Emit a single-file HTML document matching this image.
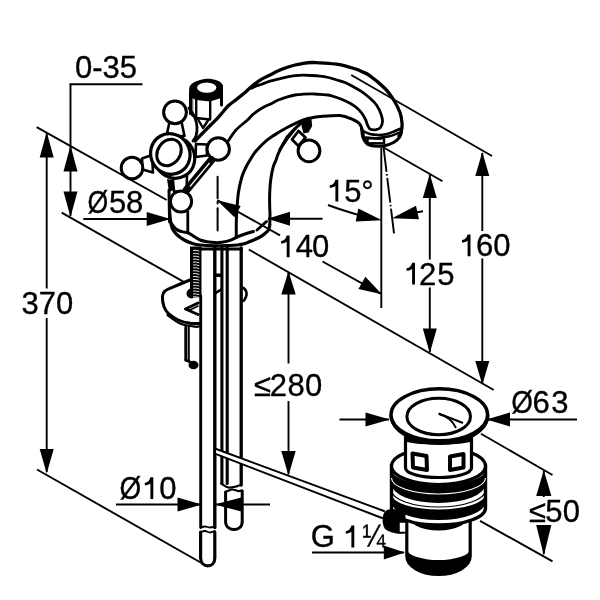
<!DOCTYPE html>
<html><head><meta charset="utf-8"><style>
html,body{margin:0;padding:0;background:#fff;}
svg{display:block;font-family:"Liberation Sans",sans-serif;filter:grayscale(1);}
text{stroke:#000;stroke-width:0.35px;}
</style></head><body>
<svg width="600" height="600" viewBox="0 0 600 600">
<rect width="600" height="600" fill="#fff"/>
<text x="75" y="78" font-size="31" text-anchor="start">0-35</text>
<line x1="69.5" y1="84.2" x2="142.5" y2="84.2" stroke="#000" stroke-width="1.9"/>
<line x1="70.5" y1="84.2" x2="70.5" y2="216" stroke="#000" stroke-width="1.9"/>
<polygon points="70.5,145.5 63.5,171.5 77.5,171.5" fill="#000"/>
<polygon points="70.5,217.0 77.5,191.5 63.5,191.5" fill="#000"/>
<line x1="46.7" y1="133" x2="46.7" y2="288.5" stroke="#000" stroke-width="1.9"/>
<line x1="46.7" y1="318" x2="46.7" y2="472" stroke="#000" stroke-width="1.9"/>
<polygon points="46.7,132.0 39.7,157.5 53.7,157.5" fill="#000"/>
<polygon points="46.7,473.5 53.7,449.0 39.7,449.0" fill="#000"/>
<text x="21.5" y="314" font-size="31" text-anchor="start">370</text>
<line x1="36.7" y1="127.2" x2="166.7" y2="200" stroke="#000" stroke-width="1.9"/>
<line x1="61.7" y1="212.7" x2="183.3" y2="281.7" stroke="#000" stroke-width="1.9"/>
<line x1="37" y1="469.5" x2="201.5" y2="563" stroke="#000" stroke-width="1.9"/>
<text transform="translate(87.38,213.4) scale(0.86,1)" font-size="31">Ø</text>
<text x="109.06" y="213.4" font-size="31">5</text>
<text x="126.05" y="213.4" font-size="31">8</text>
<line x1="83.3" y1="219" x2="168" y2="219" stroke="#000" stroke-width="1.9"/>
<polygon points="170.5,219.0 146.7,212.0 146.7,226.0" fill="#000"/>
<line x1="268" y1="218.8" x2="322.5" y2="218.8" stroke="#000" stroke-width="1.9"/>
<polygon points="267.3,218.8 290.0,225.8 290.0,211.8" fill="#000"/>
<line x1="217.5" y1="200.4" x2="280" y2="235.3" stroke="#000" stroke-width="1.9"/>
<line x1="322.5" y1="261.5" x2="381" y2="293.8" stroke="#000" stroke-width="1.9"/>
<polygon points="216.6,199.9 234.5,217.2 240.7,206.0" fill="#000"/>
<polygon points="381.9,294.3 365.4,276.8 358.4,289.0" fill="#000"/>
<path d="M286.70,235.50 L289.60,235.50 L289.60,257.30 L286.70,257.30 L286.70,241.70 C285.30,242.90 283.30,243.40 281.10,243.60 L281.10,241.10 C284.30,240.70 286.10,238.50 286.70,235.50 Z" fill="#000"/>
<text x="295.79" y="257.3" font-size="31">4</text>
<text x="312.09" y="257.3" font-size="31">0</text>
<path d="M335.40,179.70 L338.30,179.70 L338.30,201.50 L335.40,201.50 L335.40,185.90 C334.00,187.10 332.00,187.60 329.80,187.80 L329.80,185.30 C333.00,184.90 334.80,182.70 335.40,179.70 Z" fill="#000"/>
<text x="344.16" y="201.5" font-size="31">5</text>
<text x="361.25" y="201.5" font-size="31">°</text>
<path d="M328,205 Q342,210.3 360,215.3" fill="none" stroke="#000" stroke-width="1.9"/>
<polygon points="382.0,220.2 358.3,208.5 355.7,221.5" fill="#000"/>
<line x1="410" y1="213.5" x2="423" y2="211.2" stroke="#000" stroke-width="1.9"/>
<polygon points="392.0,218.2 419.0,219.3 416.0,205.7" fill="#000"/>
<line x1="381.3" y1="148" x2="381.3" y2="308" stroke="#000" stroke-width="1.9"/>
<line x1="383.5" y1="147" x2="394.2" y2="235" stroke="#000" stroke-width="1.9" stroke-dasharray="25,2.2,1.6,2.2"/>
<line x1="429.8" y1="175" x2="429.8" y2="259.5" stroke="#000" stroke-width="1.9"/>
<line x1="429.8" y1="287.5" x2="429.8" y2="352" stroke="#000" stroke-width="1.9"/>
<polygon points="429.8,174.0 422.8,198.0 436.8,198.0" fill="#000"/>
<polygon points="429.8,353.3 436.8,328.5 422.8,328.5" fill="#000"/>
<path d="M412.10,262.70 L415.00,262.70 L415.00,284.50 L412.10,284.50 L412.10,268.90 C410.70,270.10 408.70,270.60 406.50,270.80 L406.50,268.30 C409.70,267.90 411.50,265.70 412.10,262.70 Z" fill="#000"/>
<text x="418.94" y="284.5" font-size="31">2</text>
<text x="437.26" y="284.5" font-size="31">5</text>
<line x1="482.3" y1="153" x2="482.3" y2="231" stroke="#000" stroke-width="1.9"/>
<line x1="482.3" y1="258.5" x2="482.3" y2="383" stroke="#000" stroke-width="1.9"/>
<polygon points="482.3,152.0 475.3,176.0 489.3,176.0" fill="#000"/>
<polygon points="482.3,384.8 489.3,361.0 475.3,361.0" fill="#000"/>
<path d="M467.60,234.50 L470.50,234.50 L470.50,256.30 L467.60,256.30 L467.60,240.70 C466.20,241.90 464.20,242.40 462.00,242.60 L462.00,240.10 C465.20,239.70 467.00,237.50 467.60,234.50 Z" fill="#000"/>
<text x="475.93" y="256.3" font-size="31">6</text>
<text x="493.29" y="256.3" font-size="31">0</text>
<line x1="351.2" y1="75" x2="492" y2="156" stroke="#000" stroke-width="1.9"/>
<line x1="384" y1="147.7" x2="442.5" y2="181.2" stroke="#000" stroke-width="1.9"/>
<line x1="248.8" y1="249.5" x2="493.8" y2="390" stroke="#000" stroke-width="1.9"/>
<line x1="288.5" y1="273" x2="288.5" y2="363.5" stroke="#000" stroke-width="1.9"/>
<line x1="288.5" y1="401" x2="288.5" y2="474" stroke="#000" stroke-width="1.9"/>
<polygon points="288.5,271.3 281.3,294.5 295.7,294.5" fill="#000"/>
<polygon points="288.5,475.5 295.7,451.0 281.3,451.0" fill="#000"/>
<text x="254.05" y="396.3" font-size="31">≤</text>
<text x="269.69" y="396.3" font-size="31">2</text>
<text x="287.40" y="396.3" font-size="31">8</text>
<text x="305.04" y="396.3" font-size="31">0</text>
<text transform="translate(511.34,413.3) scale(0.9,1)" font-size="31">Ø</text>
<text x="532.43" y="413.3" font-size="31">6</text>
<text x="551.22" y="413.3" font-size="31">3</text>
<line x1="487.5" y1="419.5" x2="577" y2="419.5" stroke="#000" stroke-width="1.9"/>
<polygon points="486.5,419.5 510.0,426.5 510.0,412.5" fill="#000"/>
<line x1="339.5" y1="419.5" x2="389" y2="419.5" stroke="#000" stroke-width="1.9"/>
<polygon points="389.8,419.5 365.5,412.5 365.5,426.5" fill="#000"/>
<line x1="481" y1="433.8" x2="552.5" y2="475" stroke="#000" stroke-width="1.9"/>
<line x1="543.8" y1="471" x2="543.8" y2="497" stroke="#000" stroke-width="1.9"/>
<line x1="543.8" y1="525" x2="543.8" y2="554" stroke="#000" stroke-width="1.9"/>
<polygon points="543.8,470.3 536.2,496.0 551.4,496.0" fill="#000"/>
<polygon points="543.8,555.5 551.4,525.0 536.2,525.0" fill="#000"/>
<text x="529.05" y="522" font-size="31">≤</text>
<text x="545.26" y="522" font-size="31">5</text>
<text x="562.79" y="522" font-size="31">0</text>
<line x1="480" y1="520.8" x2="552.5" y2="561.3" stroke="#000" stroke-width="1.9"/>
<text transform="translate(119.44,499) scale(0.9,1)" font-size="31">Ø</text>
<path d="M150.40,477.20 L153.30,477.20 L153.30,499.00 L150.40,499.00 L150.40,483.40 C149.00,484.60 147.00,485.10 144.80,485.30 L144.80,482.80 C148.00,482.40 149.80,480.20 150.40,477.20 Z" fill="#000"/>
<text x="159.29" y="499" font-size="31">0</text>
<line x1="116" y1="504.5" x2="201" y2="504.5" stroke="#000" stroke-width="1.9"/>
<polygon points="202.0,504.5 177.5,497.5 177.5,511.5" fill="#000"/>
<line x1="215.5" y1="504.5" x2="270" y2="504.5" stroke="#000" stroke-width="1.9"/>
<polygon points="214.5,504.5 241.3,511.5 241.3,497.5" fill="#000"/>
<text x="310.64" y="547.4" font-size="31">G</text>
<path d="M351.40,525.60 L354.30,525.60 L354.30,547.40 L351.40,547.40 L351.40,531.80 C350.00,533.00 348.00,533.50 345.80,533.70 L345.80,531.20 C349.00,530.80 350.80,528.60 351.40,525.60 Z" fill="#000"/>
<text transform="translate(362.55,547.4) scale(0.88,1)" font-size="31">¼</text>
<line x1="312" y1="552.5" x2="404" y2="552.5" stroke="#000" stroke-width="1.9"/>
<polygon points="404.8,552.5 383.8,545.5 383.8,559.5" fill="#000"/>
<path d="M195.0,141.0 C196.9,139.0 202.8,132.9 206.7,129.0 C210.6,125.0 214.7,121.2 218.3,117.3 C221.9,113.4 225.2,108.8 228.3,105.8 C231.4,102.8 233.9,101.4 236.7,99.2 C239.5,97.0 242.2,94.9 245.0,92.5 C247.8,90.1 250.5,87.2 253.3,85.0 C256.1,82.8 258.9,80.9 261.7,79.2 C264.5,77.5 267.2,76.4 270.0,75.0 C272.8,73.6 275.5,72.0 278.3,70.8 C281.1,69.5 283.9,68.5 286.7,67.5 C289.5,66.5 292.2,65.7 295.0,65.0 C297.8,64.3 300.5,63.7 303.3,63.3 C306.1,62.9 308.9,62.6 311.7,62.5 C314.5,62.4 317.2,62.8 320.0,62.9 C322.8,63.0 325.5,63.1 328.3,63.3 C331.1,63.5 333.9,63.8 336.7,64.2 C339.5,64.6 342.2,65.1 345.0,65.8 C347.8,66.5 350.5,67.3 353.3,68.3 C356.1,69.2 358.9,70.2 361.7,71.5 C364.5,72.8 366.1,73.0 370.0,75.8 C373.9,78.6 381.0,84.4 385.0,88.5 C389.0,92.6 391.5,96.5 394.0,100.5 C396.5,104.5 398.7,108.8 400.0,112.5 C401.3,116.2 401.8,120.0 402.0,123.0 C402.2,126.0 402.0,128.3 401.5,130.5 C401.0,132.7 399.4,135.1 399.0,136.0" fill="none" stroke="#000" stroke-width="3.3" stroke-linejoin="round" stroke-linecap="round"/>
<path d="M251,88.5 C252,84 255,82.5 258,82.5 L259,86.5 C256,87 254,88 252,89.5 Z" fill="#000"/>
<path d="M252.0,88.0 C252.8,87.6 255.1,86.4 256.7,85.8 C258.3,85.2 259.5,85.0 261.7,84.2 C263.9,83.4 267.2,82.1 270.0,81.2 C272.8,80.4 275.5,79.9 278.3,79.2 C281.1,78.5 283.9,77.7 286.7,77.1 C289.5,76.5 292.2,75.9 295.0,75.6 C297.8,75.3 300.5,75.2 303.3,75.2 C306.1,75.2 308.9,75.3 311.7,75.5 C314.5,75.7 317.2,75.9 320.0,76.2 C322.8,76.5 325.5,76.9 328.3,77.5 C331.1,78.1 333.9,79.2 336.7,80.0 C339.5,80.8 342.2,81.4 345.0,82.5 C347.8,83.6 350.5,85.2 353.3,86.7 C356.1,88.2 358.9,89.8 361.7,91.7 C364.5,93.6 367.5,96.1 370.0,98.3 C372.5,100.5 374.7,102.4 376.5,105.0 C378.3,107.6 380.0,111.2 381.0,114.0 C382.0,116.8 382.6,119.2 382.5,121.5 C382.4,123.8 381.6,126.1 380.5,127.5 C379.4,128.9 377.8,129.4 376.0,129.7 C374.2,129.9 371.4,129.9 370.0,129.0 C368.6,128.1 368.1,126.1 367.3,124.5 C366.6,122.9 366.4,121.3 365.5,119.5 C364.6,117.7 363.4,115.4 362.0,113.5 C360.6,111.6 358.7,109.5 357.0,108.0 C355.3,106.5 353.7,105.4 351.7,104.2 C349.7,103.0 347.5,101.9 345.0,100.8 C342.5,99.7 339.5,98.5 336.7,97.5 C333.9,96.5 331.1,95.5 328.3,95.0 C325.5,94.5 322.8,94.6 320.0,94.4 C317.2,94.2 314.5,93.9 311.7,93.9 C308.9,93.9 306.1,94.0 303.3,94.2 C300.5,94.4 297.8,94.5 295.0,95.0 C292.2,95.5 289.5,96.3 286.7,97.1 C283.9,97.9 281.1,98.8 278.3,100.0 C275.5,101.2 272.8,102.8 270.0,104.2 C267.2,105.6 264.5,106.6 261.7,108.3 C258.9,110.0 255.7,112.2 253.3,114.2 C250.9,116.2 250.4,117.3 247.5,120.0 C244.6,122.7 239.1,126.6 235.8,130.2 C232.5,133.8 229.0,139.9 227.7,141.8" fill="none" stroke="#000" stroke-width="2.8" stroke-linejoin="round" stroke-linecap="round"/>
<path d="M236.3,237.5 C236.3,234.9 236.2,226.9 236.3,222.0 C236.4,217.1 236.6,213.0 237.0,208.0 C237.4,203.0 237.7,197.1 238.5,192.0 C239.3,186.9 240.5,181.6 241.7,177.5 C242.9,173.4 244.4,170.4 245.8,167.5 C247.2,164.6 248.6,162.4 250.0,160.0 C251.4,157.6 252.5,155.5 254.2,153.3 C255.9,151.1 257.9,148.9 260.0,146.7 C262.1,144.5 264.7,142.0 266.7,140.3 C268.7,138.6 270.1,137.9 272.0,136.6 C273.9,135.3 275.9,134.1 278.3,132.6 C280.8,131.1 283.9,129.3 286.7,127.8 C289.5,126.3 292.2,125.0 295.0,123.7 C297.8,122.4 300.5,120.9 303.3,119.9 C306.1,118.9 308.9,118.3 311.7,117.8 C314.5,117.2 315.3,117.0 320.0,116.6 C324.7,116.2 334.7,115.1 340.0,115.5 C345.3,115.9 348.8,117.8 352.0,119.2 C355.2,120.6 357.8,121.8 359.5,123.7 C361.2,125.6 361.8,128.1 362.5,130.5 C363.2,132.9 363.1,135.8 364.0,138.0 C364.9,140.2 367.1,143.0 367.7,144.0" fill="none" stroke="#000" stroke-width="3" stroke-linejoin="round" stroke-linecap="round"/>
<path d="M269.8,224.0 C269.8,222.5 270.0,217.9 270.0,215.0 C270.0,212.1 269.8,210.3 269.7,206.7 C269.6,203.1 269.5,197.8 269.7,193.3 C269.9,188.9 270.1,184.4 270.7,180.0 C271.3,175.6 272.4,170.0 273.3,166.7 C274.2,163.4 275.2,162.2 276.0,160.0 C276.8,157.8 277.2,156.1 278.3,153.7 C279.4,151.2 281.1,147.8 282.5,145.3 C283.9,142.8 285.2,140.9 286.7,138.7 C288.2,136.5 290.0,133.9 291.7,132.0 C293.4,130.1 295.0,128.5 296.7,127.0 C298.4,125.5 300.9,123.5 301.7,122.8" fill="none" stroke="#000" stroke-width="3" stroke-linejoin="round" stroke-linecap="round"/>
<path d="M361.5,128.0 C361.7,129.5 362.1,134.5 362.8,137.0 C363.6,139.5 364.8,141.4 366.0,142.8 C367.2,144.2 368.0,144.6 370.0,145.2 C372.0,145.8 375.6,146.1 378.0,146.2 C380.4,146.3 381.7,146.5 384.4,145.8 C387.1,145.2 391.5,143.7 394.0,142.3 C396.5,140.9 398.3,139.0 399.6,137.2 C400.9,135.4 401.3,132.5 401.6,131.6" fill="none" stroke="#000" stroke-width="3" stroke-linejoin="round" stroke-linecap="round"/>
<path d="M362.8,131.0 C364.0,131.5 367.5,133.3 370.0,134.0 C372.5,134.7 375.3,134.9 378.0,135.0 C380.7,135.1 383.3,134.9 386.0,134.3 C388.7,133.7 391.5,132.5 394.0,131.5 C396.5,130.5 399.8,129.0 401.0,128.5" fill="none" stroke="#000" stroke-width="2.6" stroke-linejoin="round" stroke-linecap="round"/>
<path d="M378.0,138.0 C380.0,137.7 386.2,137.0 390.0,136.0 C393.8,135.0 398.8,132.7 400.5,132.0" fill="none" stroke="#000" stroke-width="2.4" stroke-linejoin="round" stroke-linecap="round"/>
<rect x="367.5" y="138.3" width="16.5" height="5" fill="#fff" stroke="#000" stroke-width="2.4"/>
<line x1="366" y1="137.5" x2="380" y2="138.8" stroke="#000" stroke-width="2.6" stroke-linecap="round"/>
<path d="M190.5,96 L190.5,113.5 L196,118 L210,119.5 L221.5,106 L221.5,97 Z" fill="#fff"/>
<path d="M190.5,113.5 L190.5,92" fill="none" stroke="#000" stroke-width="3" stroke-linejoin="round" stroke-linecap="round"/>
<path d="M221.5,86 L221.5,105" fill="none" stroke="#000" stroke-width="3" stroke-linejoin="round" stroke-linecap="round"/>
<path d="M189.2,96.5 L189.2,88 C190,83.5 197,79.8 206.5,78.8 C215,78.8 221,81 222.8,85.5 L222.8,97.5 L210,101.5 L196,100 Z" fill="#000"/>
<ellipse cx="206.7" cy="87.6" rx="9.7" ry="5.2" fill="#fff"/>
<line x1="196.2" y1="98" x2="196.2" y2="118" stroke="#000" stroke-width="2.4" stroke-linecap="round"/>
<line x1="210.2" y1="100" x2="210.2" y2="119" stroke="#000" stroke-width="2.4" stroke-linecap="round"/>
<line x1="192.8" y1="97" x2="192.8" y2="114" stroke="#000" stroke-width="0.8" stroke-linecap="round"/>
<path d="M190.5,113.5 L196,118 L210,119.5" fill="none" stroke="#000" stroke-width="2.4" stroke-linejoin="round" stroke-linecap="round"/>
<path d="M197.5,118.5 L203,128 L208,120.5" fill="none" stroke="#000" stroke-width="2.4" stroke-linejoin="round" stroke-linecap="round"/>
<path d="M169.5,122 L181.5,122 L184.5,136 L166.5,136 Z" fill="#fff" stroke="#000" stroke-width="2.6" stroke-linejoin="round" stroke-linecap="round"/>
<path d="M142,158.5 L152,155 L153,172.5 L142.5,169.5 Z" fill="#fff" stroke="#000" stroke-width="2.6" stroke-linejoin="round" stroke-linecap="round"/>
<path d="M207,144.5 L196,144 L195.5,157 L207,155.5 Z" fill="#fff" stroke="#000" stroke-width="2.6" stroke-linejoin="round" stroke-linecap="round"/>
<path d="M172.5,176 L187,176 L186.5,191.5 L174,191.5 Z" fill="#fff" stroke="#000" stroke-width="2.6" stroke-linejoin="round" stroke-linecap="round"/>
<ellipse cx="174.5" cy="157.5" rx="20" ry="21" transform="rotate(-30 174.5 157.5)" fill="#fff" stroke="#000" stroke-width="3.2"/>
<ellipse cx="170.3" cy="154" rx="19.5" ry="20.5" transform="rotate(-30 170.3 154)" fill="#fff" stroke="#000" stroke-width="3.2"/>
<ellipse cx="169" cy="152.5" rx="14" ry="11.3" transform="rotate(-55 169 152.5)" fill="#fff" stroke="#000" stroke-width="3"/>
<circle cx="175" cy="112.3" r="11.4" fill="#fff" stroke="#000" stroke-width="3"/>
<circle cx="132" cy="168" r="10.8" fill="#fff" stroke="#000" stroke-width="3"/>
<circle cx="218.2" cy="149" r="11.2" fill="#fff" stroke="#000" stroke-width="3"/>
<circle cx="181" cy="201.5" r="10.6" fill="#fff" stroke="#000" stroke-width="3"/>
<path d="M169.5,210.0 C169.6,211.3 169.9,215.7 170.2,218.0 C170.4,220.3 170.6,222.1 171.0,224.0 C171.4,225.9 171.9,227.8 172.8,229.5 C173.8,231.2 174.8,232.8 176.7,234.5 C178.6,236.2 181.6,238.5 184.2,240.0 C186.8,241.5 189.9,242.7 192.5,243.5 C195.1,244.3 196.2,244.6 200.0,245.0 C203.8,245.4 210.0,245.7 215.0,245.8 C220.0,245.9 226.2,245.6 230.0,245.5 C233.8,245.4 235.0,245.3 237.5,245.0 C240.0,244.7 242.5,244.2 245.0,243.5 C247.5,242.8 250.0,241.6 252.5,240.5 C255.0,239.4 257.9,238.2 260.0,237.0 C262.1,235.8 263.6,234.7 265.0,233.5 C266.4,232.3 267.7,231.4 268.5,230.0 C269.3,228.6 269.6,225.8 269.8,225.0" fill="none" stroke="#000" stroke-width="3.2" stroke-linejoin="round" stroke-linecap="round"/>
<path d="M171.5,223.5 C172.2,224.4 174.1,227.6 175.8,229.0 C177.5,230.4 179.6,231.0 181.7,231.7 C183.8,232.4 186.2,232.2 188.3,233.0 C190.4,233.8 192.1,235.3 194.0,236.5 C195.9,237.7 197.8,239.1 200.0,240.0 C202.2,240.9 204.5,241.3 207.0,241.7 C209.5,242.1 212.5,242.5 215.0,242.6 C217.5,242.7 219.5,242.6 222.0,242.2 C224.5,241.8 227.4,241.3 230.0,240.4 C232.6,239.5 235.0,237.9 237.5,236.8 C240.0,235.7 242.3,234.9 245.0,234.0 C247.7,233.1 252.1,231.9 253.5,231.5" fill="none" stroke="#000" stroke-width="3" stroke-linejoin="round" stroke-linecap="round"/>
<line x1="257" y1="230" x2="266.5" y2="221.5" stroke="#000" stroke-width="3" stroke-linecap="round"/>
<line x1="187.8" y1="212" x2="187.8" y2="232.5" stroke="#000" stroke-width="2.8" stroke-linecap="round"/>
<line x1="217.6" y1="176.7" x2="217.6" y2="198.3" stroke="#000" stroke-width="2.0" stroke-linecap="round"/>
<line x1="217.6" y1="201.8" x2="217.6" y2="203.4" stroke="#000" stroke-width="2.0" stroke-linecap="round"/>
<line x1="217.6" y1="208.3" x2="217.6" y2="230.4" stroke="#000" stroke-width="2.0" stroke-linecap="round"/>
<path d="M292,139.5 L298.5,131 L305.5,137.5 L298.5,146 Z" fill="#fff" stroke="#000" stroke-width="2.8" stroke-linejoin="round" stroke-linecap="round"/>
<circle cx="309" cy="150.8" r="10.9" fill="#fff" stroke="#000" stroke-width="3"/>
<polygon points="303.0,120.5 311.5,119.0 312.2,126.0 308.5,132.5 303.5,133.5 301.5,126.0" fill="#000"/>
<polygon points="278.0,150.0 286.0,136.0 296.0,126.0 303.0,121.0 296.0,130.0 288.0,140.0 281.0,150.0" fill="#000"/>
<path d="M211.5,160 L186.5,190" fill="none" stroke="#000" stroke-width="7.5" stroke-linejoin="round" stroke-linecap="round"/>
<line x1="209.5" y1="163" x2="190" y2="186.5" stroke="#fff" stroke-width="1.2"/>
<path d="M189.0,108.0 C190.0,109.7 193.7,114.8 195.0,118.0 C196.3,121.2 196.8,124.0 197.0,127.0 C197.2,130.0 196.7,133.7 196.0,136.0 C195.3,138.3 193.5,140.2 193.0,141.0" fill="none" stroke="#000" stroke-width="2.8" stroke-linejoin="round" stroke-linecap="round"/>
<polygon points="167.0,179.0 172.5,180.0 173.5,190.0 169.0,192.0" fill="#000"/>
<line x1="169" y1="190" x2="169.6" y2="222" stroke="#000" stroke-width="3" stroke-linecap="round"/>
<ellipse cx="191.5" cy="293.5" rx="5" ry="5" fill="#000"/>
<rect x="190" y="246.5" width="11.5" height="51" fill="#000"/>
<path d="M193,250.5 Q196,250.0 199.3,251.2" fill="none" stroke="#fff" stroke-width="0.9"/>
<path d="M193,253.4 Q196,252.9 199.3,254.1" fill="none" stroke="#fff" stroke-width="0.9"/>
<path d="M193,256.3 Q196,255.8 199.3,257.0" fill="none" stroke="#fff" stroke-width="0.9"/>
<path d="M193,259.2 Q196,258.7 199.3,259.9" fill="none" stroke="#fff" stroke-width="0.9"/>
<path d="M193,262.1 Q196,261.6 199.3,262.8" fill="none" stroke="#fff" stroke-width="0.9"/>
<path d="M193,265.0 Q196,264.5 199.3,265.7" fill="none" stroke="#fff" stroke-width="0.9"/>
<path d="M193,267.9 Q196,267.4 199.3,268.6" fill="none" stroke="#fff" stroke-width="0.9"/>
<path d="M193,270.8 Q196,270.3 199.3,271.5" fill="none" stroke="#fff" stroke-width="0.9"/>
<path d="M193,273.7 Q196,273.2 199.3,274.4" fill="none" stroke="#fff" stroke-width="0.9"/>
<path d="M193,276.6 Q196,276.1 199.3,277.3" fill="none" stroke="#fff" stroke-width="0.9"/>
<path d="M193,279.5 Q196,279.0 199.3,280.2" fill="none" stroke="#fff" stroke-width="0.9"/>
<path d="M193,282.4 Q196,281.9 199.3,283.1" fill="none" stroke="#fff" stroke-width="0.9"/>
<path d="M193,285.3 Q196,284.8 199.3,286.0" fill="none" stroke="#fff" stroke-width="0.9"/>
<path d="M193,288.2 Q196,287.7 199.3,288.9" fill="none" stroke="#fff" stroke-width="0.9"/>
<path d="M193,291.1 Q196,290.6 199.3,291.8" fill="none" stroke="#fff" stroke-width="0.9"/>
<path d="M193,294.0 Q196,293.5 199.3,294.7" fill="none" stroke="#fff" stroke-width="0.9"/>
<path d="M193,296.9 Q196,296.4 199.3,297.6" fill="none" stroke="#fff" stroke-width="0.9"/>
<line x1="200" y1="249" x2="241.5" y2="249" stroke="#000" stroke-width="2.8" stroke-linecap="round"/>
<line x1="200.7" y1="296" x2="200.7" y2="527.5" stroke="#000" stroke-width="2.9" stroke-linecap="round"/>
<line x1="214.8" y1="248" x2="214.8" y2="527.5" stroke="#000" stroke-width="3.4" stroke-linecap="round"/>
<path d="M200.6,532 L200.6,558 C201,568.5 214.8,568.5 214.8,558 L214.8,532" fill="none" stroke="#000" stroke-width="3.2" stroke-linejoin="round" stroke-linecap="round"/>
<path d="M200.6,527.5 C201.3,527.3 203.4,526.5 205.0,526.5 C206.6,526.5 208.4,527.5 210.0,527.5 C211.6,527.5 214.0,526.7 214.8,526.5" fill="none" stroke="#000" stroke-width="1.8" stroke-linejoin="round" stroke-linecap="round"/>
<path d="M200.6,532.0 C201.3,531.8 203.4,530.9 205.0,531.0 C206.6,531.1 208.4,532.5 210.0,532.5 C211.6,532.5 214.0,531.2 214.8,531.0" fill="none" stroke="#000" stroke-width="1.8" stroke-linejoin="round" stroke-linecap="round"/>
<line x1="221.9" y1="248" x2="221.9" y2="483.5" stroke="#000" stroke-width="3.1" stroke-linecap="round"/>
<line x1="227.2" y1="248" x2="227.2" y2="483.5" stroke="#000" stroke-width="3.1" stroke-linecap="round"/>
<line x1="241.2" y1="248" x2="241.2" y2="485" stroke="#000" stroke-width="3.3" stroke-linecap="round"/>
<path d="M221.2,483.5 C222.4,484.2 225.9,487.0 228.5,487.5 C231.1,488.0 234.6,486.7 236.7,486.3 C238.8,485.9 240.4,485.2 241.2,485.0" fill="none" stroke="#000" stroke-width="2.2" stroke-linejoin="round" stroke-linecap="round"/>
<path d="M225.6,492 L225.6,522 C226,532 242.2,532 242.2,522 L242.2,491" fill="none" stroke="#000" stroke-width="3" stroke-linejoin="round" stroke-linecap="round"/>
<path d="M225.6,492.0 C226.7,491.6 229.9,489.7 232.0,489.5 C234.1,489.3 236.3,490.8 238.0,491.0 C239.7,491.2 241.5,490.6 242.2,490.5" fill="none" stroke="#000" stroke-width="2.2" stroke-linejoin="round" stroke-linecap="round"/>
<polygon points="214.8,273.5 221.2,273.5 221.2,277.0 214.8,277.0" fill="#000"/>
<polygon points="214.8,292.0 221.2,288.0 221.2,291.0 214.8,295.0" fill="#000"/>
<path d="M241.5,287.0 C242.2,287.5 244.7,288.7 245.5,290.0 C246.3,291.3 246.8,293.2 246.5,295.0 C246.2,296.8 244.8,299.5 244.0,300.5 C243.2,301.5 241.9,300.9 241.5,301.0" fill="none" stroke="#000" stroke-width="2.6" stroke-linejoin="round" stroke-linecap="round"/>
<path d="M190.0,280.0 C188.0,280.8 182.2,283.2 178.0,285.0 C173.8,286.8 167.6,289.0 165.0,291.0 C162.4,293.0 162.7,294.4 162.5,297.0 C162.3,299.6 163.0,304.0 164.0,306.7 C165.0,309.4 165.9,311.1 168.3,313.3 C170.7,315.5 174.7,318.3 178.3,320.0 C181.9,321.7 186.4,322.8 190.0,323.3 C193.6,323.9 198.3,323.3 200.0,323.3" fill="none" stroke="#000" stroke-width="3" stroke-linejoin="round" stroke-linecap="round"/>
<path d="M167.5,315.0 C169.6,316.4 175.4,321.6 180.0,323.5 C184.6,325.4 191.7,326.3 195.0,326.7 C198.3,327.1 199.2,326.1 200.0,326.0" fill="none" stroke="#000" stroke-width="2.2" stroke-linejoin="round" stroke-linecap="round"/>
<path d="M198,303 L185.5,309 L198,314.5" fill="none" stroke="#000" stroke-width="3" stroke-linejoin="round" stroke-linecap="round"/>
<line x1="190" y1="310" x2="198" y2="306" stroke="#000" stroke-width="1.6" stroke-linecap="round"/>
<line x1="185.8" y1="327" x2="185.8" y2="360" stroke="#000" stroke-width="3" stroke-linecap="round"/>
<line x1="188.8" y1="327" x2="188.8" y2="360" stroke="#000" stroke-width="2" stroke-linecap="round"/>
<path d="M186,360 L190,362" fill="none" stroke="#000" stroke-width="3" stroke-linejoin="round" stroke-linecap="round"/>
<ellipse cx="193.5" cy="365" rx="5" ry="4.3" fill="#000"/>
<polygon points="216.2,449 384,511 382,518 216.2,454.2" fill="#fff"/>
<line x1="216.2" y1="449" x2="384" y2="511" stroke="#000" stroke-width="1.9" stroke-linecap="round"/>
<line x1="216.2" y1="454.2" x2="382" y2="518" stroke="#000" stroke-width="1.9" stroke-linecap="round"/>
<path d="M406.8,512 L406.8,556 A31.7,18.5 0 0 0 470.2,556 L470.2,512 Z" fill="#fff" stroke="#000" stroke-width="3.2"/>
<path d="M406.8,549 A31.7,11 0 0 0 470.2,549 L470.2,556 A31.7,18.5 0 0 1 406.8,556 Z" fill="#000"/>
<path d="M406.8,506 A31.7,18 0 0 0 470.2,506 L470.2,514 A31.7,16.5 0 0 1 406.8,514 Z" fill="#000"/>
<path d="M391.5,466 L391.5,508 A47,17 0 0 0 485.5,508 L485.5,466 Z" fill="#fff" stroke="#000" stroke-width="3.4"/>
<path d="M391.5,470 A47.0,15 0 0 0 485.5,470 L485.5,484 A47.0,19 0 0 1 391.5,484 Z" fill="#000"/>
<path d="M391.5,478 A47.0,16 0 0 0 485.5,478" fill="none" stroke="#fff" stroke-width="1.1"/>
<path d="M391.5,490 A47.0,17 0 0 0 485.5,490" fill="none" stroke="#000" stroke-width="1.2"/>
<path d="M391.5,494 A47.0,15.5 0 0 0 485.5,494 L485.5,502 A47.0,18 0 0 1 391.5,502 Z" fill="#000"/>
<ellipse cx="438.5" cy="466" rx="47" ry="18.5" fill="#fff" stroke="#000" stroke-width="3.2"/>
<path d="M405.5,438 L405.5,468 A33,9.5 0 0 0 471.5,468 L471.5,438 Z" fill="#fff" stroke="#000" stroke-width="3.2"/>
<path d="M412.5,453.5 L426.5,456 L427,470 L413,467.5 Z" fill="#fff" stroke="#000" stroke-width="4" stroke-linejoin="round"/>
<path d="M450,456.5 L463.5,454 L463.5,467.5 L450,470 Z" fill="#fff" stroke="#000" stroke-width="4" stroke-linejoin="round"/>
<path d="M405.5,430 L405.5,441 A33,3.5 0 0 0 471.5,441 L471.5,430 Z" fill="#000"/>
<path d="M391,415 A48.5,28.5 0 0 0 488,415 L488,415 A48.5,26 0 0 1 391,415 Z" fill="#000" stroke="#000" stroke-width="3"/>
<ellipse cx="439.3" cy="414.8" rx="48.3" ry="26" fill="#fff" stroke="#000" stroke-width="3.4"/>
<ellipse cx="438.7" cy="416.5" rx="31.8" ry="18.2" fill="#fff" stroke="#000" stroke-width="3"/>
<path d="M438.5,413.5 L463,423" stroke="#000" stroke-width="2.2" fill="none"/>
<path d="M439,414 Q451,417 456,428" stroke="#000" stroke-width="1.9" fill="none"/>
<path d="M384,513 C386,508 396,508 405,512 L407,533 C400,535 390,533 385,529 C382,524 382,517 384,513 Z" fill="#000"/>
<rect x="399" y="522" width="7" height="10.5" fill="#fff" stroke="#000" stroke-width="1.5"/>
</svg></body></html>
